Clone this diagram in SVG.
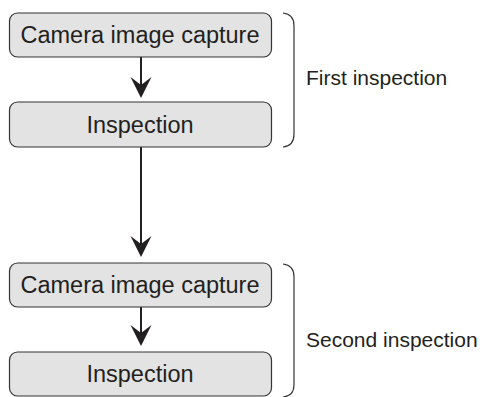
<svg xmlns="http://www.w3.org/2000/svg" width="484" height="397" viewBox="0 0 484 397">
  <style>
    .box { fill: #e3e3e3; stroke: #333333; stroke-width: 1.2; }
    .btxt { font-family: "Liberation Sans", Arial, sans-serif; font-size: 23.5px; fill: #231f20; text-anchor: middle; }
    .ltxt { font-family: "Liberation Sans", Arial, sans-serif; font-size: 21px; fill: #231f20; }
    .line { stroke: #231f20; stroke-width: 2; fill: none; }
    .head { fill: #231f20; }
    .brace { stroke: #333333; stroke-width: 1.2; fill: none; }
  </style>
  <defs>
    <!-- notched arrowhead, tip at origin pointing down -->
    <path id="ah" class="head" d="M0,0 L-10.5,-21 L0,-13 L10.5,-21 Z"/>
  </defs>

  <g id="connectors">
    <line class="line" x1="141" y1="57" x2="141" y2="86"/>
    <use href="#ah" x="141" y="98"/>
    <line class="line" x1="141" y1="147" x2="141" y2="246"/>
    <use href="#ah" x="141" y="257"/>
    <line class="line" x1="141" y1="307" x2="141" y2="334"/>
    <use href="#ah" x="141" y="346"/>
  </g>

  <g id="capture1">
    <rect class="box" x="9.5" y="13" width="262" height="44" rx="8"/>
    <text class="btxt" x="140" y="43">Camera image capture</text>
  </g>
  <g id="inspection1">
    <rect class="box" x="9.5" y="102" width="262" height="45" rx="8"/>
    <text class="btxt" x="140" y="132.5">Inspection</text>
  </g>
  <g id="capture2">
    <rect class="box" x="9.5" y="263" width="262" height="44" rx="8"/>
    <text class="btxt" x="140" y="293">Camera image capture</text>
  </g>
  <g id="inspection2">
    <rect class="box" x="9.5" y="352" width="262" height="44" rx="8"/>
    <text class="btxt" x="140" y="382">Inspection</text>
  </g>

  <g id="first-inspection">
    <path class="brace" d="M283,13 Q294,14 294,26 L294,134 Q294,146 283,147"/>
    <text class="ltxt" x="306" y="85">First inspection</text>
  </g>
  <g id="second-inspection">
    <path class="brace" d="M283,264 Q294,265 294,277 L294,385 Q294,396 283,397"/>
    <text class="ltxt" x="306" y="347">Second inspection</text>
  </g>
</svg>
